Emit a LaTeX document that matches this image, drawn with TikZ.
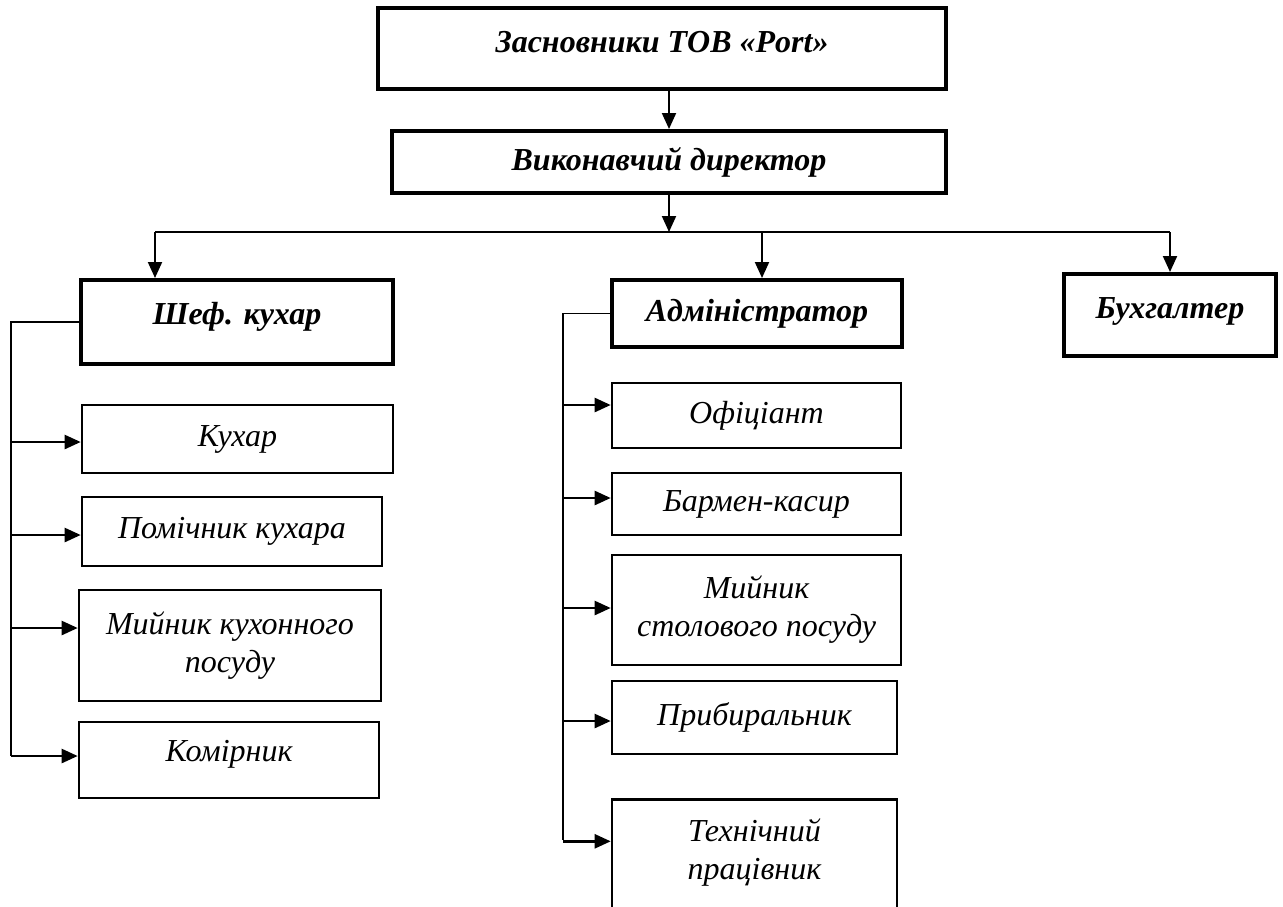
\documentclass[tikz,border=0pt]{standalone}
\usepackage{fontspec}
\setmainfont{Liberation Serif}
\usepackage{tikz}
\usetikzlibrary{arrows.meta,positioning,calc}

\begin{document}
\begin{tikzpicture}[x=0.5pt,y=-0.5pt,
    headbox/.style={draw,line width=2pt,inner sep=0pt,align=center,
      font=\fontsize{16}{19}\selectfont\bfseries\itshape},
    unitbox/.style={draw,line width=1.3pt,inner sep=0pt,align=center,
      font=\fontsize{16}{19}\selectfont\itshape},
    bus/.style={line width=0.6pt},
    down/.style={-{Triangle[length=8pt,width=7pt]},line width=1pt},
    feed/.style={-{Triangle[length=8pt,width=7pt]},line width=1.2pt}
  ]
    \useasboundingbox (0,0) rectangle (1283,906);
    % top levels
    \node[headbox,minimum width=284pt,minimum height=40.5pt,text depth=7pt](founders) at (662,48.5) {Засновники ТОВ «Port»};
    \node[headbox,minimum width=277pt,minimum height=31pt](director) at (669,162) {Виконавчий директор};
    \node[headbox,minimum width=156pt,minimum height=42pt,text depth=8.5pt](chef) at (237,322) {Шеф. кухар};
    \node[headbox,minimum width=145pt,minimum height=33.5pt](admin) at (757,313.5) {Адміністратор};
    \node[headbox,minimum width=106pt,minimum height=41pt,text depth=7pt](buh) at (1170,315) {Бухгалтер};
    % kitchen
    \node[unitbox,minimum width=155.5pt,minimum height=34pt](cook) at (237.5,439) {Кухар};
    \node[unitbox,minimum width=150pt,minimum height=34.5pt](asst) at (232,531.5) {Помічник кухара};
    \node[unitbox,minimum width=151pt,minimum height=55.5pt](kwash) at (230,645.5) {Мийник кухонного\\посуду};
    \node[unitbox,minimum width=150pt,minimum height=38pt,text depth=9.5pt](store) at (229,760) {Комірник};
    % hall
    \node[unitbox,minimum width=144.5pt,minimum height=32.5pt](waiter) at (756.5,415.5) {Офіціант};
    \node[unitbox,minimum width=144.5pt,minimum height=31pt](barman) at (756.5,504) {Бармен-касир};
    \node[unitbox,minimum width=144.5pt,minimum height=55pt](twash) at (756.5,610) {Мийник\\столового посуду};
    \node[unitbox,minimum width=142.5pt,minimum height=36.5pt](cleaner) at (754.5,717.5) {Прибиральник};
    \node[unitbox,minimum width=142.5pt,minimum height=58.5pt,text depth=8.5pt,anchor=north](tech) at (754.5,798) {Технічний\\працівник};

    % main links
    \coordinate (bl) at (155,232);
    \coordinate (bm) at (762,232);
    \coordinate (br) at (1170,232);
    \draw[down](founders.south -| director)--(director.north);
    \draw[down](director.south)--(director.south |- bl);
    \draw[bus](bl)--(br);
    \draw[down](bl)--(bl |- chef.north);
    \draw[down](bm)--(bm |- admin.north);
    \draw[down](br)--(buh.north);

    % kitchen line
    \coordinate (kb) at (11,756);
    \draw[bus](chef.west)-|(kb);
    \foreach \n/\d in {cook/-1.5,asst/-1.75,kwash/8.75,store/2}{
      \path ([yshift=\d pt]\n.west) coordinate (t);
      \draw[feed](t -| kb)--(t);
    }

    % hall line
    \coordinate (hb) at (563,840);
    \draw[bus](admin.west)-|(hb);
    \foreach \n/\d in {waiter/5.25,barman/3,twash/1,cleaner/-1.75,tech/8.25}{
      \path ([yshift=\d pt]\n.west) coordinate (t);
      \draw[feed](t -| hb)--(t);
    }
  \end{tikzpicture}
\end{document}
